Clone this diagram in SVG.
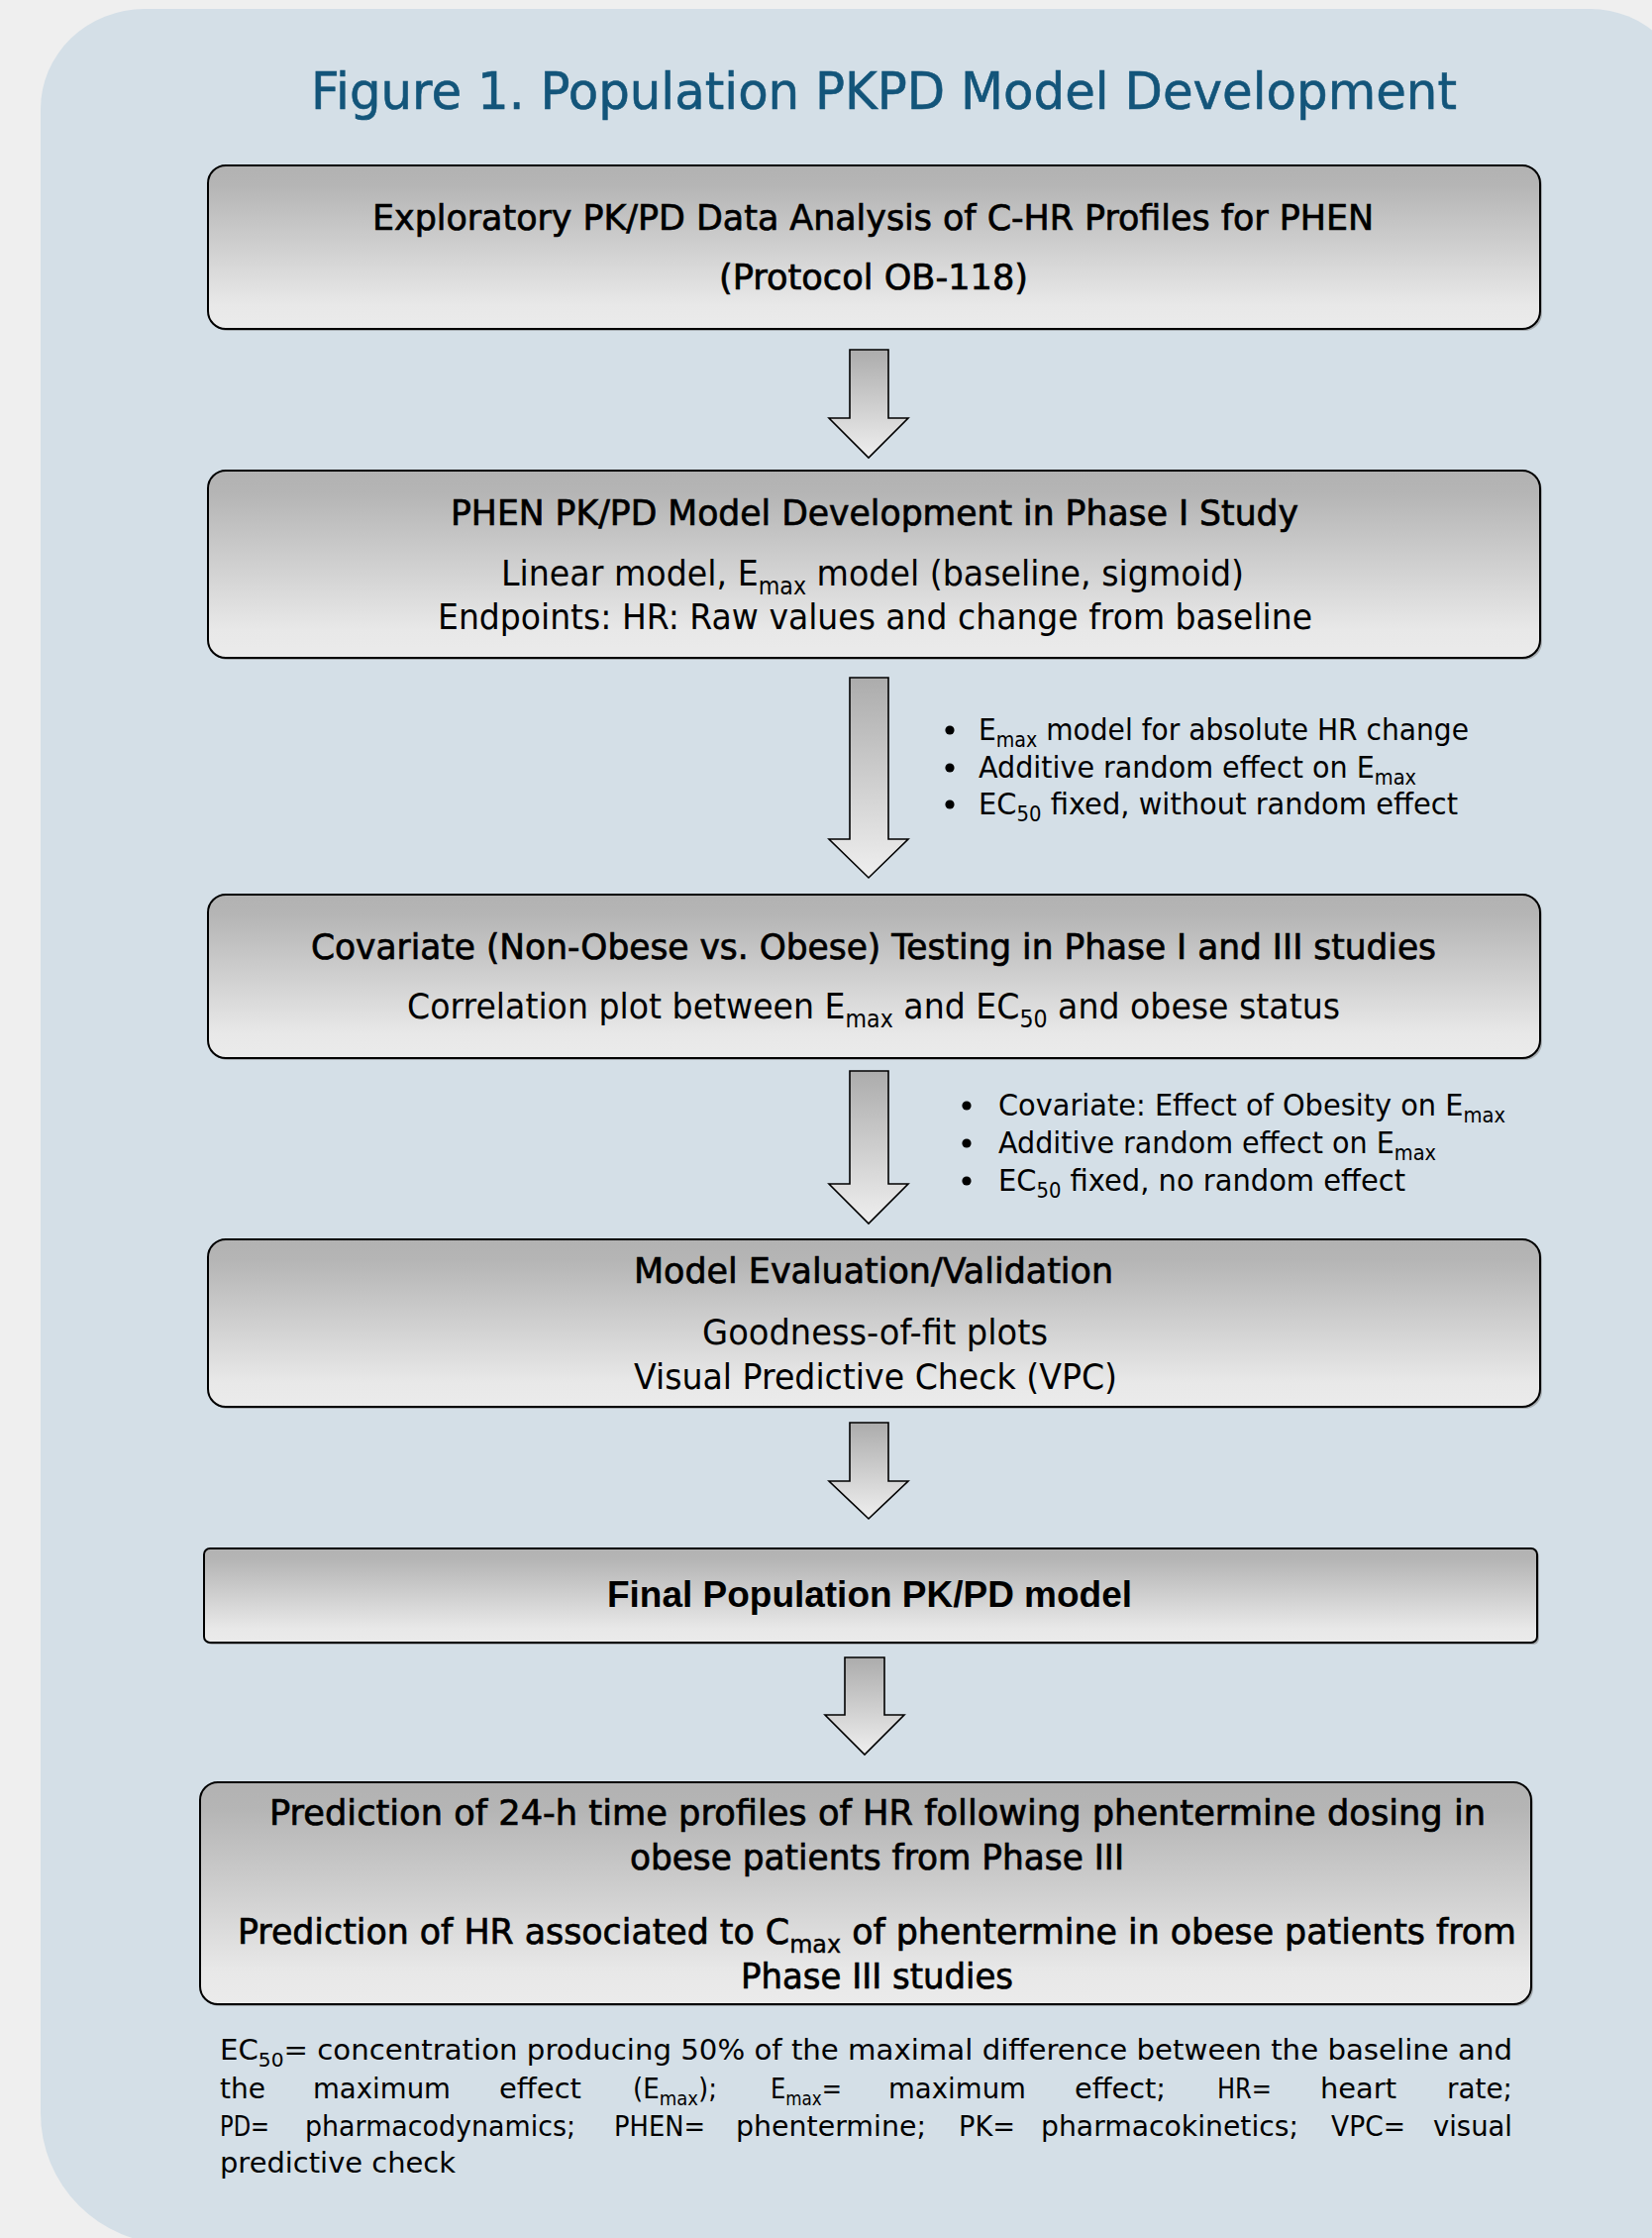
<svg xmlns="http://www.w3.org/2000/svg" width="1668" height="2259" viewBox="0 0 1668 2259">
<defs>
<linearGradient id="bg" x1="0" y1="0" x2="0" y2="1">
<stop offset="0" stop-color="#b2b2b2"/>
<stop offset="0.12" stop-color="#b5b5b5"/>
<stop offset="0.85" stop-color="#e8e8e8"/>
<stop offset="1" stop-color="#ebebeb"/>
</linearGradient>
<linearGradient id="ag" x1="0" y1="0" x2="0" y2="1">
<stop offset="0" stop-color="#acacac"/>
<stop offset="1" stop-color="#efefef"/>
</linearGradient>
<style>
.box{fill:url(#bg);stroke:#000;stroke-width:2}
.sh{fill:#6f6f6f;opacity:0.45}
.arr{fill:url(#ag);stroke:#000;stroke-width:1.6;stroke-linejoin:miter}
text{font-family:"DejaVu Sans",Verdana,sans-serif;fill:#000}
.t{font-size:52px;fill:#13557a;stroke:#13557a;stroke-width:0.6px}
.h{font-size:35px;stroke:#000;stroke-width:0.7px}
.b{font-size:36px}
.bl{font-size:31px}
.fn{font-size:29px}
.fb{font-family:"Liberation Sans",Arial,sans-serif;font-weight:bold;font-size:37px}
</style>
</defs>
<rect x="0" y="0" width="1668" height="2259" fill="#efefef"/>
<path d="M 146 9 H 1606 A 100 100 0 0 1 1706 109 V 2265 H 173 A 132 132 0 0 1 41 2133 V 110 A 105 101 0 0 1 146 9 Z" fill="#d4dfe7"/>
<text class="t" x="314" y="110" textLength="1157" lengthAdjust="spacingAndGlyphs">Figure 1. Population PKPD Model Development</text>

<g id="connectors">
<path class="arr" d="M858 353 H897 V422 H917 L877 462 L837 422 H858 Z"/>
<path class="arr" d="M858 684 H897 V847 H917 L877 886 L837 847 H858 Z"/>
<path class="arr" d="M858 1081 H897 V1195 H917 L877 1235 L837 1195 H858 Z"/>
<path class="arr" d="M858 1436 H897 V1495 H917 L877 1533 L837 1495 H858 Z"/>
<path class="arr" d="M853 1673 H893 V1731 H913 L873 1771 L833 1731 H853 Z"/>
</g>

<g id="notes1">
<circle cx="959" cy="737" r="4.6"/>
<circle cx="959" cy="775" r="4.6"/>
<circle cx="959" cy="812" r="4.6"/>
<text class="bl" x="988" y="747" textLength="495" lengthAdjust="spacingAndGlyphs">E<tspan dy="7" font-size="21">max</tspan><tspan dy="-7"> model for absolute HR change</tspan></text>
<text class="bl" x="988" y="785" textLength="442" lengthAdjust="spacingAndGlyphs">Additive random effect on E<tspan dy="7" font-size="21">max</tspan></text>
<text class="bl" x="988" y="822" textLength="484" lengthAdjust="spacingAndGlyphs">EC<tspan dy="7" font-size="21">50</tspan><tspan dy="-7"> fixed, without random effect</tspan></text>
</g>

<g id="notes2">
<circle cx="976" cy="1116" r="4.6"/>
<circle cx="976" cy="1154" r="4.6"/>
<circle cx="976" cy="1192" r="4.6"/>
<text class="bl" x="1008" y="1126" textLength="512" lengthAdjust="spacingAndGlyphs">Covariate: Effect of Obesity on E<tspan dy="7" font-size="21">max</tspan></text>
<text class="bl" x="1008" y="1164" textLength="442" lengthAdjust="spacingAndGlyphs">Additive random effect on E<tspan dy="7" font-size="21">max</tspan></text>
<text class="bl" x="1008" y="1202" textLength="411" lengthAdjust="spacingAndGlyphs">EC<tspan dy="7" font-size="21">50</tspan><tspan dy="-7"> fixed, no random effect</tspan></text>
</g>

<g id="node1">
<rect class="sh" x="212" y="169" width="1345" height="165" rx="18"/>
<rect class="box" x="210" y="167" width="1345" height="165" rx="18"/>
<text class="h" x="376" y="232" textLength="1011" lengthAdjust="spacingAndGlyphs">Exploratory PK/PD Data Analysis of C-HR Profiles for PHEN</text>
<text class="h" x="726" y="292" textLength="312" lengthAdjust="spacingAndGlyphs">(Protocol OB-118)</text>
</g>

<g id="node2">
<rect class="sh" x="212" y="477" width="1345" height="189" rx="18"/>
<rect class="box" x="210" y="475" width="1345" height="189" rx="18"/>
<text class="h" x="455" y="530" textLength="856" lengthAdjust="spacingAndGlyphs">PHEN PK/PD Model Development in Phase I Study</text>
<text class="b" x="506" y="591" textLength="750" lengthAdjust="spacingAndGlyphs">Linear model, E<tspan dy="9" font-size="24">max</tspan><tspan dy="-9"> model (baseline, sigmoid)</tspan></text>
<text class="b" x="442" y="635" textLength="883" lengthAdjust="spacingAndGlyphs">Endpoints: HR: Raw values and change from baseline</text>
</g>

<g id="node3">
<rect class="sh" x="212" y="905" width="1345" height="165" rx="18"/>
<rect class="box" x="210" y="903" width="1345" height="165" rx="18"/>
<text class="h" x="314" y="968" textLength="1136" lengthAdjust="spacingAndGlyphs">Covariate (Non-Obese vs. Obese) Testing in Phase I and III studies</text>
<text class="b" x="411" y="1028" textLength="942" lengthAdjust="spacingAndGlyphs">Correlation plot between E<tspan dy="9" font-size="24">max</tspan><tspan dy="-9"> and EC</tspan><tspan dy="9" font-size="24">50</tspan><tspan dy="-9"> and obese status</tspan></text>
</g>

<g id="node4">
<rect class="sh" x="212" y="1253" width="1345" height="169" rx="18"/>
<rect class="box" x="210" y="1251" width="1345" height="169" rx="18"/>
<text class="h" x="640" y="1295" textLength="484" lengthAdjust="spacingAndGlyphs">Model Evaluation/Validation</text>
<text class="b" x="709" y="1357" textLength="349" lengthAdjust="spacingAndGlyphs">Goodness-of-fit plots</text>
<text class="b" x="640" y="1402" textLength="488" lengthAdjust="spacingAndGlyphs">Visual Predictive Check (VPC)</text>
</g>

<g id="node5">
<rect class="sh" x="208" y="1565" width="1346" height="95" rx="6"/>
<rect class="box" x="206" y="1563" width="1346" height="95" rx="6"/>
<text class="fb" x="613" y="1622" textLength="530" lengthAdjust="spacingAndGlyphs">Final Population PK/PD model</text>
</g>

<g id="node6">
<rect class="sh" x="204" y="1801" width="1344" height="224" rx="18"/>
<rect class="box" x="202" y="1799" width="1344" height="224" rx="18"/>
<text class="h" x="272" y="1842" textLength="1228" lengthAdjust="spacingAndGlyphs">Prediction of 24-h time profiles of HR following phentermine dosing in</text>
<text class="h" x="636" y="1887" textLength="499" lengthAdjust="spacingAndGlyphs">obese patients from Phase III</text>
<text class="h" x="240" y="1962" textLength="1291" lengthAdjust="spacingAndGlyphs">Prediction of HR associated to C<tspan dy="9" font-size="24" stroke-width="0.4">max</tspan><tspan dy="-9"> of phentermine in obese patients from</tspan></text>
<text class="h" x="748" y="2007" textLength="275" lengthAdjust="spacingAndGlyphs">Phase III studies</text>
</g>

<g id="footnote">
<text class="fn" x="222" y="2079" textLength="1305" lengthAdjust="spacingAndGlyphs">EC<tspan dy="7" font-size="20">50</tspan><tspan dy="-7">= concentration producing 50% of the maximal difference between the baseline and</tspan></text>
<text class="fn" x="222" y="2118" textLength="46" lengthAdjust="spacingAndGlyphs">the</text>
<text class="fn" x="316" y="2118" textLength="139" lengthAdjust="spacingAndGlyphs">maximum</text>
<text class="fn" x="504" y="2118" textLength="83" lengthAdjust="spacingAndGlyphs">effect</text>
<text class="fn" x="639" y="2118" textLength="85" lengthAdjust="spacingAndGlyphs">(E<tspan dy="7" font-size="20">max</tspan><tspan dy="-7">);</tspan></text>
<text class="fn" x="778" y="2118" textLength="72" lengthAdjust="spacingAndGlyphs">E<tspan dy="7" font-size="20">max</tspan><tspan dy="-7">=</tspan></text>
<text class="fn" x="897" y="2118" textLength="139" lengthAdjust="spacingAndGlyphs">maximum</text>
<text class="fn" x="1085" y="2118" textLength="92" lengthAdjust="spacingAndGlyphs">effect;</text>
<text class="fn" x="1229" y="2118" textLength="55" lengthAdjust="spacingAndGlyphs">HR=</text>
<text class="fn" x="1333" y="2118" textLength="77" lengthAdjust="spacingAndGlyphs">heart</text>
<text class="fn" x="1461" y="2118" textLength="66" lengthAdjust="spacingAndGlyphs">rate;</text>
<text class="fn" x="222" y="2156" textLength="50" lengthAdjust="spacingAndGlyphs">PD=</text>
<text class="fn" x="308" y="2156" textLength="273" lengthAdjust="spacingAndGlyphs">pharmacodynamics;</text>
<text class="fn" x="620" y="2156" textLength="92" lengthAdjust="spacingAndGlyphs">PHEN=</text>
<text class="fn" x="743" y="2156" textLength="192" lengthAdjust="spacingAndGlyphs">phentermine;</text>
<text class="fn" x="968" y="2156" textLength="57" lengthAdjust="spacingAndGlyphs">PK=</text>
<text class="fn" x="1051" y="2156" textLength="260" lengthAdjust="spacingAndGlyphs">pharmacokinetics;</text>
<text class="fn" x="1344" y="2156" textLength="75" lengthAdjust="spacingAndGlyphs">VPC=</text>
<text class="fn" x="1447" y="2156" textLength="80" lengthAdjust="spacingAndGlyphs">visual</text>
<text class="fn" x="222" y="2193" textLength="238" lengthAdjust="spacingAndGlyphs">predictive check</text>
</g>
</svg>
